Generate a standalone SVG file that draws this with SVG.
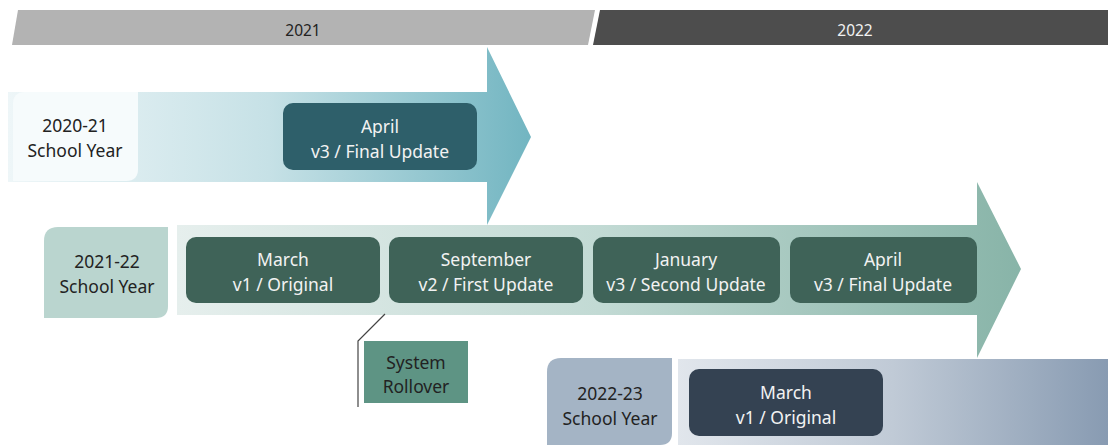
<svg xmlns="http://www.w3.org/2000/svg" width="1108" height="445" viewBox="0 0 1108 445">
<defs>
<linearGradient id="g1" x1="8" y1="0" x2="531" y2="0" gradientUnits="userSpaceOnUse">
<stop offset="0" stop-color="#eef6f8"/><stop offset="0.5" stop-color="#c6e1e6"/><stop offset="1" stop-color="#72b5c1"/>
</linearGradient>
<linearGradient id="g2" x1="177" y1="0" x2="1021" y2="0" gradientUnits="userSpaceOnUse">
<stop offset="0" stop-color="#e6efed"/><stop offset="0.5" stop-color="#c2dad4"/><stop offset="1" stop-color="#88b4a8"/>
</linearGradient>
<linearGradient id="g3" x1="678" y1="0" x2="1108" y2="0" gradientUnits="userSpaceOnUse">
<stop offset="0" stop-color="#e1e6ec"/><stop offset="0.5" stop-color="#c0cad6"/><stop offset="1" stop-color="#889bb2"/>
</linearGradient>
<style>
text{font-family:"Segoe UI","Noto Sans","Open Sans",sans-serif;font-size:17.5px;text-anchor:middle}
.sm{font-size:15.5px}
.dk{fill:#222}
.wt{fill:#f2f2f2}
.b1{fill:#2e5f6a}
.b2{fill:#3f6358}
.b3{fill:#344252}
</style>
</defs>
<g id="banner-2021">
<polygon points="18,10 595,10 588,45 12,45" fill="#b3b3b3"/>
<text x="303" y="36" class="dk sm">2021</text>
</g>
<g id="banner-2022">
<polygon points="600,10 1108,10 1108,45 593,45" fill="#4d4d4d"/>
<text x="855" y="36" class="wt sm">2022</text>
</g>
<g id="arrow-2020-21">
<polygon points="8,92 487,92 487,47 531,137 487,225 487,182 8,182" fill="url(#g1)"/>
<path d="M25,92 H138 V169 Q138,181 126,181 H13 V104 Q13,92 25,92 Z" fill="#f6fbfc"/>
<text x="75" y="132" class="dk">2020-21</text>
<text x="75" y="157" class="dk">School Year</text>
</g>
<g id="arrow-2021-22">
<polygon points="177,225 977,225 977,182 1021,269 977,358 977,315 177,315" fill="url(#g2)"/>
<path d="M58,227 H168 V306 Q168,318 156,318 H44 V241 Q44,227 58,227 Z" fill="#bad5cf"/>
<text x="107" y="268" class="dk">2021-22</text>
<text x="107" y="293" class="dk">School Year</text>
</g>
<g id="arrow-2022-23">
<polygon points="678,359 1108,359 1108,445 678,445" fill="url(#g3)"/>
<path d="M561,358 H672 V433 Q672,445 660,445 H547 V372 Q547,358 561,358 Z" fill="#a4b4c5"/>
<text x="610" y="400" class="dk">2022-23</text>
<text x="610" y="425" class="dk">School Year</text>
</g>
<g id="april-2021">
<rect x="283" y="103" width="194" height="67" rx="10" class="b1"/>
<text x="380" y="133" class="wt">April</text>
<text x="380" y="158" class="wt">v3 / Final Update</text>
</g>
<g id="march-2022">
<rect x="186" y="237" width="194" height="66" rx="10" class="b2"/>
<text x="283" y="266" class="wt">March</text>
<text x="283" y="291" class="wt">v1 / Original</text>
</g>
<g id="september-2022">
<rect x="389" y="237" width="194" height="66" rx="10" class="b2"/>
<text x="486" y="266" class="wt">September</text>
<text x="486" y="291" class="wt">v2 / First Update</text>
</g>
<g id="january-2022">
<rect x="593" y="237" width="187" height="66" rx="10" class="b2"/>
<text x="686" y="266" class="wt">January</text>
<text x="686" y="291" class="wt">v3 / Second Update</text>
</g>
<g id="april-2022">
<rect x="790" y="237" width="187" height="66" rx="10" class="b2"/>
<text x="883" y="266" class="wt">April</text>
<text x="883" y="291" class="wt">v3 / Final Update</text>
</g>
<g id="march-2023">
<rect x="689" y="369" width="194" height="67" rx="10" class="b3"/>
<text x="786" y="399" class="wt">March</text>
<text x="786" y="424" class="wt">v1 / Original</text>
</g>
<g id="connectors">
<polyline points="385,314 358,341 358,407" fill="none" stroke="#444" stroke-width="1.2"/>
</g>
<g id="system-rollover">
<rect x="364" y="341" width="104" height="62" fill="#5e9484"/>
<text x="416" y="369" class="dk">System</text>
<text x="416" y="393" class="dk">Rollover</text>
</g>
</svg>
